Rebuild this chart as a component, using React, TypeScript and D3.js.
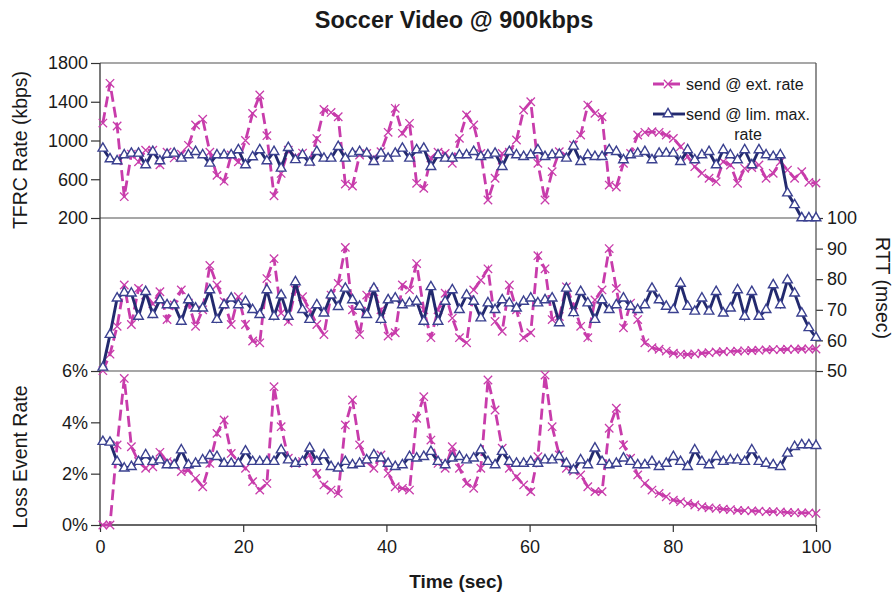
import * as d3 from 'd3';
import { useCallback } from 'react';

// sample times (sec), one value per second
const time = d3.range(101).map((i) => 0.4 + i * 0.996);

// TFRC rate (kbps)
const extRate = [
  1180, 1590, 1150, 420, 860, 780, 900, 900, 750, 880,
  820, 860, 950, 1160, 1220, 880, 640, 580, 850, 780,
  1000, 1280, 1470, 1050, 430, 660, 900, 830, 870, 780,
  1020, 1320, 1290, 1245, 550, 530, 850, 867, 820, 884,
  1084, 1332, 1074, 1177, 558, 506, 820, 880, 867, 764,
  1022, 1263, 1160, 867, 386, 610, 867, 880, 1005, 1315,
  1400, 764, 386, 678, 884, 840, 953, 1057, 1366, 1280,
  1245, 540, 520, 764, 867, 1057, 1084, 1090, 1084, 1057,
  1022, 936, 833, 730, 661, 610, 575, 781, 747, 558,
  713, 720, 747, 610, 661, 781, 695, 610, 678, 568, 560,
];
const limRate = [
  919, 809, 788, 850, 867, 867, 747, 884, 788, 856,
  867, 816, 850, 884, 850, 764, 850, 850, 850, 902,
  747, 830, 902, 788, 884, 713, 926, 800, 850, 774,
  884, 816, 816, 936, 816, 867, 884, 867, 781, 867,
  816, 867, 919, 816, 902, 919, 730, 850, 816, 816,
  850, 850, 884, 833, 850, 867, 730, 884, 850, 833,
  850, 902, 833, 850, 856, 816, 940, 781, 850, 833,
  833, 902, 884, 799, 850, 867, 884, 799, 867, 867,
  867, 781, 902, 799, 850, 884, 747, 902, 850, 799,
  902, 747, 902, 850, 833, 850, 457, 336, 200, 200, 200,
];

// RTT (msec)
const extRtt = [
  50.1, 55.5, 64.6, 78.1, 65.2, 77.0, 74.8, 72.0, 75.9, 66.8,
  71.6, 76.5, 72.2, 64.6, 70.0, 84.5, 78.1, 72.7, 65.2, 74.3,
  65.2, 59.8, 59.2, 80.2, 86.7, 68.9, 66.2, 76.5, 74.3, 70.0,
  65.2, 61.9, 74.8, 78.6, 90.4, 70.0, 61.9, 74.8, 75.9, 70.0,
  61.4, 62.5, 78.1, 76.5, 85.1, 70.0, 60.9, 70.0, 75.4, 67.3,
  60.9, 59.2, 76.5, 79.7, 83.4, 66.2, 63.0, 78.1, 70.0, 60.9,
  62.5, 87.7, 83.4, 66.8, 67.8, 77.5, 71.6, 64.6, 60.9, 73.2,
  76.5, 90.0, 77.0, 64.1, 72.2, 66.8, 59.2, 57.6, 57.1, 56.5,
  55.8, 55.5, 55.4, 55.6, 55.8, 56.0, 56.2, 56.3, 56.4, 56.5,
  56.6, 56.7, 56.8, 56.9, 57.0, 57.0, 57.1, 57.1, 57.2, 57.2, 57.2,
];
const limRtt = [
  51.2, 61.9, 73.8, 75.6, 75.4, 67.8, 75.9, 68.4, 73.2, 71.6,
  71.6, 66.2, 73.2, 70.5, 70.5, 76.5, 66.8, 71.6, 73.8, 71.6,
  72.7, 70.0, 68.4, 76.5, 67.8, 74.8, 67.8, 79.1, 70.0, 66.8,
  71.6, 68.9, 74.8, 71.0, 77.0, 73.2, 71.1, 68.4, 77.0, 66.8,
  73.2, 73.8, 71.6, 72.2, 72.7, 66.2, 77.5, 66.2, 72.7, 76.5,
  70.0, 74.8, 72.7, 67.3, 72.2, 70.0, 73.2, 72.2, 70.5, 72.7,
  73.8, 72.2, 73.2, 73.8, 65.7, 77.0, 69.0, 75.9, 72.2, 66.8,
  73.2, 70.0, 71.6, 73.8, 71.1, 70.0, 71.6, 77.0, 73.2, 71.1,
  70.0, 78.6, 71.1, 69.5, 73.8, 69.5, 75.9, 68.9, 70.5, 76.5,
  67.8, 75.9, 67.8, 70.0, 78.1, 71.6, 79.7, 75.4, 68.9, 64.1, 60.9,
];

// loss event rate (%)
const extLoss = [
  0, 0, 3.12, 5.71, 3.05, 2.47, 2.21, 2.27, 2.83, 2.47,
  2.4, 2.08, 2.14, 1.82, 1.49, 2.4, 3.57, 4.09, 2.79, 2.47,
  2.21, 1.69, 1.36, 1.62, 5.39, 3.83, 2.6, 2.4, 2.47, 2.73,
  2.01, 1.56, 1.36, 1.23, 3.9, 4.87, 3.12, 2.47, 2.21, 2.73,
  2.01, 1.49, 1.43, 1.36, 4.16, 5.0, 3.31, 2.4, 2.21, 3.05,
  2.21, 1.62, 1.43, 2.21, 5.65, 4.48, 2.99, 2.21, 1.88, 1.56,
  1.3, 2.66, 5.84, 3.83, 2.73, 2.21, 2.1, 1.95, 1.49, 1.3,
  1.3, 3.77, 4.55, 3.12, 2.6, 1.95, 1.62, 1.36, 1.23, 1.1,
  0.97, 0.91, 0.84, 0.78, 0.71, 0.67, 0.65, 0.62, 0.6, 0.57,
  0.56, 0.55, 0.54, 0.52, 0.52, 0.51, 0.49, 0.48, 0.47, 0.47, 0.45,
];
const limLoss = [
  3.25, 3.22, 2.47, 2.21, 2.27, 2.47, 2.73, 2.47, 2.53, 2.34,
  2.34, 2.92, 2.34, 2.4, 2.53, 2.7, 2.66, 2.4, 2.4, 2.4,
  2.88, 2.47, 2.47, 2.47, 2.47, 2.92, 2.53, 2.4, 2.47, 2.99,
  2.47, 2.73, 2.27, 2.21, 2.47, 2.34, 2.4, 2.53, 2.73, 2.6,
  2.4, 2.27, 2.34, 2.66, 2.6, 2.66, 2.86, 2.47, 2.34, 2.6,
  2.66, 2.53, 2.6, 2.92, 2.47, 2.34, 2.86, 2.47, 2.4, 2.4,
  2.47, 2.4, 2.53, 2.53, 2.66, 2.4, 2.14, 2.53, 2.34, 2.99,
  2.47, 2.34, 2.4, 2.6, 2.47, 2.34, 2.34, 2.47, 2.27, 2.4,
  2.66, 2.47, 2.27, 2.92, 2.47, 2.34, 2.66, 2.47, 2.53, 2.53,
  2.47, 2.92, 2.47, 2.4, 2.34, 2.27, 2.79, 3.05, 3.12, 3.12, 3.09,
];

const rateTicks = [200, 600, 1000, 1400, 1800];
const rttTicks = [50, 60, 70, 80, 90, 100];
const lossTicks = [0, 2, 4, 6];
const timeTicks = [0, 20, 40, 60, 80, 100];

const legendLabels = ['send @ ext. rate', 'send @ lim. max.', 'rate'];

const width = 895;
const height = 598;
const left = 100;
const right = 816;
const rateTop = 63;
const rateBottom = 218;
const lossTop = 371;
const lossBottom = 525;

const pink = '#c83cab';
const navy = '#232a6e';
const font = "'Liberation Sans', Arial, Helvetica, sans-serif";

const crossPath = 'M-4.2,-4.2L4.2,4.2M-4.2,4.2L4.2,-4.2';
const triPath = d3.symbol(d3.symbolTriangle, 40)() as string;

const App = () => {
  const draw = useCallback((ref: SVGSVGElement | null) => {
    if (!ref) return;
    const svg = d3.select(ref);
    svg.selectAll('*').remove();

    const x = d3.scaleLinear().domain([0, 100]).range([left, right]);
    const yRate = d3.scaleLinear().domain([200, 1800]).range([rateBottom, rateTop]);
    const yRtt = d3.scaleLinear().domain([50, 100]).range([lossTop, rateBottom]);
    const yLoss = d3.scaleLinear().domain([0, 6]).range([lossBottom, lossTop]);

    // panel separators
    svg
      .append('g')
      .selectAll('line')
      .data([rateTop, rateBottom, lossTop])
      .join('line')
      .attr('x1', left)
      .attr('x2', right)
      .attr('y1', (d) => d)
      .attr('y2', (d) => d)
      .attr('stroke', '#8a8a8a')
      .attr('stroke-width', 1.3);

    const styleAxis = (g: d3.Selection<SVGGElement, unknown, null, undefined>) => {
      g.select('.domain').remove();
      g.selectAll('line').attr('stroke', '#333').attr('stroke-width', 1.2);
      g.selectAll('text').attr('font-family', font).attr('font-size', 18).attr('fill', '#1a1a1a');
    };

    svg
      .append('g')
      .attr('transform', `translate(${left},0)`)
      .call(d3.axisLeft(yRate).tickValues(rateTicks).tickSize(9).tickPadding(3).tickFormat(d3.format('d')))
      .call(styleAxis);
    svg
      .append('g')
      .attr('transform', `translate(${left},0)`)
      .call(
        d3
          .axisLeft(yLoss)
          .tickValues(lossTicks)
          .tickSize(9)
          .tickPadding(3)
          .tickFormat((d) => `${d}%`),
      )
      .call(styleAxis);
    svg
      .append('g')
      .attr('transform', `translate(${right},0)`)
      .call(d3.axisRight(yRtt).tickValues(rttTicks).tickSize(7).tickPadding(4))
      .call(styleAxis);
    svg
      .append('g')
      .attr('transform', `translate(0,${lossBottom})`)
      .call(d3.axisBottom(x).tickValues(timeTicks).tickSize(7).tickPadding(8))
      .call(styleAxis);

    // frame
    svg
      .append('line')
      .attr('x1', left)
      .attr('x2', left)
      .attr('y1', rateTop)
      .attr('y2', lossBottom)
      .attr('stroke', '#333')
      .attr('stroke-width', 1.3);
    svg
      .append('line')
      .attr('x1', right)
      .attr('x2', right)
      .attr('y1', rateTop)
      .attr('y2', lossBottom)
      .attr('stroke', '#555')
      .attr('stroke-width', 1.3);
    svg
      .append('line')
      .attr('x1', left)
      .attr('x2', right)
      .attr('y1', lossBottom)
      .attr('y2', lossBottom)
      .attr('stroke', '#333')
      .attr('stroke-width', 1.3);

    const drawExt = (values: number[], y: d3.ScaleLinear<number, number>) => {
      const line = d3
        .line<number>()
        .x((_, i) => x(time[i]))
        .y((d) => y(d));
      svg
        .append('path')
        .attr('d', line(values))
        .attr('fill', 'none')
        .attr('stroke', pink)
        .attr('stroke-width', 2.8)
        .attr('stroke-dasharray', '11,5');
      svg
        .append('g')
        .selectAll('path')
        .data(values)
        .join('path')
        .attr('d', crossPath)
        .attr('transform', (d, i) => `translate(${x(time[i])},${y(d)})`)
        .attr('fill', 'none')
        .attr('stroke', pink)
        .attr('stroke-width', 1.3);
    };

    const drawLim = (values: number[], y: d3.ScaleLinear<number, number>) => {
      const line = d3
        .line<number>()
        .x((_, i) => x(time[i]))
        .y((d) => y(d));
      svg
        .append('path')
        .attr('d', line(values))
        .attr('fill', 'none')
        .attr('stroke', navy)
        .attr('stroke-width', 2.9);
      svg
        .append('g')
        .selectAll('path')
        .data(values)
        .join('path')
        .attr('d', triPath)
        .attr('transform', (d, i) => `translate(${x(time[i])},${y(d)})`)
        .attr('fill', 'white')
        .attr('stroke', '#3b4190')
        .attr('stroke-width', 1.4);
    };

    drawExt(extRate, yRate);
    drawLim(limRate, yRate);
    drawExt(extRtt, yRtt);
    drawLim(limRtt, yRtt);
    drawExt(extLoss, yLoss);
    drawLim(limLoss, yLoss);

    // legend
    const lg = svg.append('g').attr('font-family', font).attr('font-size', 16).attr('fill', '#1a1a1a');
    lg.append('line')
      .attr('x1', 653)
      .attr('x2', 683)
      .attr('y1', 84)
      .attr('y2', 84)
      .attr('stroke', pink)
      .attr('stroke-width', 2.8)
      .attr('stroke-dasharray', '11,5');
    lg.append('path')
      .attr('d', crossPath)
      .attr('transform', 'translate(668,84)')
      .attr('fill', 'none')
      .attr('stroke', pink)
      .attr('stroke-width', 1.3);
    lg.append('text').attr('x', 686).attr('y', 90).text(legendLabels[0]);
    lg.append('line')
      .attr('x1', 653)
      .attr('x2', 685)
      .attr('y1', 114)
      .attr('y2', 114)
      .attr('stroke', navy)
      .attr('stroke-width', 2.9);
    lg.append('path')
      .attr('d', triPath)
      .attr('transform', 'translate(668,114)')
      .attr('fill', 'white')
      .attr('stroke', '#3b4190')
      .attr('stroke-width', 1.4);
    lg.append('text').attr('x', 686).attr('y', 120).text(legendLabels[1]);
    lg.append('text').attr('x', 748).attr('y', 140).attr('text-anchor', 'middle').text(legendLabels[2]);

    // titles
    svg
      .append('text')
      .attr('x', 454)
      .attr('y', 28)
      .attr('text-anchor', 'middle')
      .attr('font-family', font)
      .attr('font-size', 23.5)
      .attr('font-weight', 'bold')
      .attr('fill', '#1a1a1a')
      .text('Soccer Video @ 900kbps');
    svg
      .append('text')
      .attr('x', 456)
      .attr('y', 588)
      .attr('text-anchor', 'middle')
      .attr('font-family', font)
      .attr('font-size', 19)
      .attr('font-weight', 'bold')
      .attr('fill', '#1a1a1a')
      .text('Time (sec)');

    const yTitle = (label: string, tx: number, ty: number, rot: number) =>
      svg
        .append('text')
        .attr('transform', `translate(${tx},${ty}) rotate(${rot})`)
        .attr('text-anchor', 'middle')
        .attr('font-family', font)
        .attr('font-size', 19.5)
        .attr('fill', '#1a1a1a')
        .text(label);
    yTitle('TFRC Rate (kbps)', 27, 150, -90);
    yTitle('Loss Event Rate', 27, 457, -90);
    yTitle('RTT (msec)', 876, 288, 90);
  }, []);

  return (
    <svg
      ref={draw}
      width={width}
      height={height}
      style={{ position: 'absolute', left: 0, top: 0, background: 'white' }}
    ></svg>
  );
};

export default App;
